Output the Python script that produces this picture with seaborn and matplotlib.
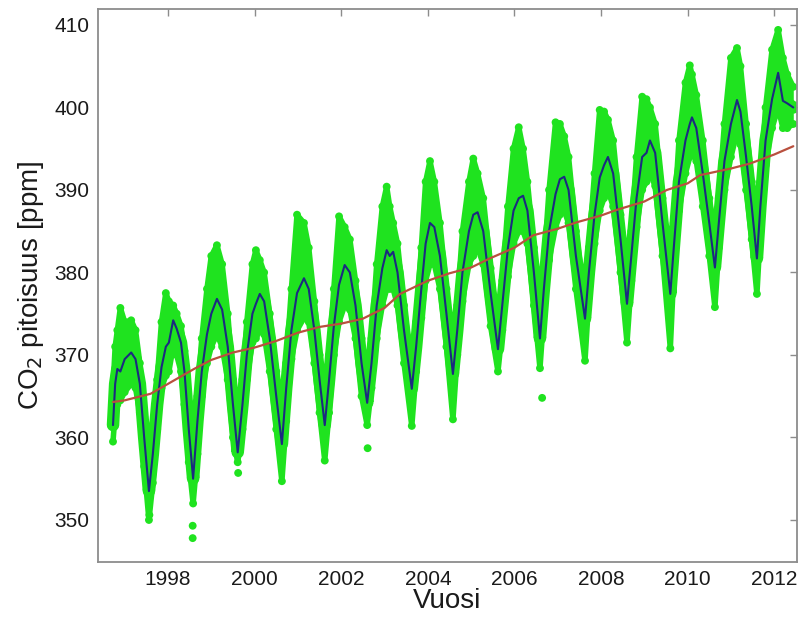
import matplotlib
matplotlib.use("Agg")
import matplotlib.pyplot as plt
import seaborn as sns
import pandas as pd

# ---------------- data ----------------
t_obs = [1996.73, 1996.78, 1996.83, 1996.90, 1997.00, 1997.15, 1997.25, 1997.35, 1997.45, 1997.56,
         1997.65, 1997.75, 1997.85, 1997.95, 1998.02, 1998.12, 1998.20, 1998.30, 1998.38, 1998.48,
         1998.58, 1998.68, 1998.78, 1998.90, 1999.00, 1999.13, 1999.25, 1999.38, 1999.50, 1999.61,
         1999.72, 1999.82, 1999.95, 2000.03, 2000.12, 2000.22, 2000.35, 2000.50, 2000.63,
         2000.73, 2000.85, 2000.98, 2001.14, 2001.25, 2001.38, 2001.50, 2001.62,
         2001.72, 2001.83, 2001.95, 2002.08, 2002.20, 2002.33, 2002.47, 2002.60,
         2002.70, 2002.82, 2002.95, 2003.05, 2003.12, 2003.20, 2003.30, 2003.45, 2003.63,
         2003.73, 2003.85, 2003.95, 2004.05, 2004.15, 2004.28, 2004.43, 2004.58,
         2004.68, 2004.80, 2004.95, 2005.05, 2005.15, 2005.28, 2005.45, 2005.62,
         2005.72, 2005.85, 2005.98, 2006.10, 2006.20, 2006.30, 2006.45, 2006.59,
         2006.68, 2006.80, 2006.95, 2007.05, 2007.15, 2007.25, 2007.42, 2007.63,
         2007.72, 2007.85, 2007.97, 2008.07, 2008.16, 2008.28, 2008.45, 2008.60,
         2008.70, 2008.82, 2008.95, 2009.05, 2009.13, 2009.25, 2009.42, 2009.60,
         2009.68, 2009.80, 2009.95, 2010.05, 2010.10, 2010.20, 2010.35, 2010.50, 2010.63,
         2010.72, 2010.85, 2011.00, 2011.14, 2011.22, 2011.35, 2011.48, 2011.60,
         2011.68, 2011.80, 2011.95, 2012.09, 2012.20, 2012.30, 2012.44]

co2_smooth = [361.5, 366.5, 368.3, 368.0, 369.5, 370.3, 369.5, 366.5, 360.0, 353.5,
              358.0, 364.0, 368.5, 371.0, 371.5, 374.2, 373.2, 371.5, 368.0, 361.0,
              355.0, 362.0, 368.0, 372.5, 375.0, 376.8, 375.5, 371.0, 364.0, 358.2,
              364.0, 370.0, 375.0, 376.2, 377.4, 376.5, 372.0, 365.0, 359.2,
              366.0, 373.0, 377.5, 379.3, 378.0, 373.0, 367.0, 361.5,
              367.0, 373.5, 378.5, 380.9, 380.0, 376.0, 369.0, 364.2,
              369.0, 376.0, 380.5, 382.7, 382.0, 382.5, 380.0, 373.0, 365.9,
              371.0, 378.0, 383.5, 386.0, 385.5, 382.0, 375.0, 367.7,
              373.0, 380.0, 385.0, 387.0, 387.3, 385.0, 377.5, 370.7,
              376.0, 383.0, 387.5, 389.0, 389.3, 387.5, 380.0, 372.0,
              378.0, 385.0, 389.5, 391.3, 391.6, 390.0, 382.0, 374.4,
              380.0, 387.0, 391.5, 393.0, 394.0, 392.0, 384.0, 376.2,
              382.0, 389.0, 394.0, 394.5, 396.0, 394.5, 386.0, 377.4,
              383.0, 391.0, 396.0, 398.0, 398.8, 397.5, 392.0, 386.0, 380.6,
              386.0, 393.5, 398.0, 400.9, 399.5, 394.0, 388.0, 381.7,
              388.0, 396.0, 401.0, 404.2, 400.8, 400.5, 400.0]

co2_hi = [366.0, 371.0, 373.0, 375.7, 374.0, 374.2, 373.0, 369.0, 362.5, 356.0,
          361.0, 367.0, 374.0, 377.5, 376.5, 376.0, 375.0, 373.5, 370.5, 363.5,
          358.0, 365.0, 372.0, 378.0, 382.0, 383.3, 381.0, 375.0, 367.0, 360.5,
          367.0, 374.0, 381.0, 382.7, 381.5, 380.0, 375.0, 368.0, 361.5,
          369.0, 378.0, 387.0, 386.0, 383.0, 376.5, 370.0, 364.0,
          370.0, 378.0, 386.8, 385.5, 384.0, 379.0, 372.0, 366.0,
          372.0, 381.0, 388.0, 390.4, 388.0, 386.0, 383.5, 376.0, 368.0,
          374.0, 383.0, 391.0, 393.5, 391.0, 386.0, 378.0, 370.0,
          376.0, 385.0, 391.0, 393.8, 392.0, 389.0, 380.5, 373.0,
          379.0, 388.0, 395.0, 397.6, 395.0, 391.0, 383.0, 374.5,
          381.0, 390.0, 398.2, 398.0, 396.5, 394.0, 385.0, 376.5,
          383.0, 392.0, 399.7, 399.5, 398.5, 396.0, 387.0, 378.5,
          385.0, 394.0, 401.3, 401.0, 400.0, 398.0, 389.0, 380.0,
          386.0, 396.0, 403.0, 405.1, 404.0, 401.5, 396.0, 389.0, 383.0,
          389.0, 398.0, 406.0, 407.2, 405.0, 398.0, 391.0, 384.0,
          391.0, 400.0, 407.0, 409.4, 406.0, 404.0, 402.5]

co2_lo = [359.5, 363.0, 364.0, 364.5, 365.5, 366.5, 366.0, 363.0, 356.5, 350.0,
          354.5, 361.0, 366.0, 367.5, 368.0, 371.0, 370.0, 368.0, 364.0, 357.0,
          352.0, 358.0, 365.0, 369.0, 371.0, 372.5, 371.0, 367.0, 360.0, 357.0,
          361.0, 367.0, 371.5, 372.0, 373.0, 372.5, 368.0, 361.0, 354.7,
          362.0, 369.5, 373.0, 374.5, 374.0, 369.0, 363.0, 357.2,
          363.0, 370.0, 374.0, 376.0, 375.5, 372.0, 365.0, 361.5,
          366.0, 372.0, 376.0, 378.0, 378.0, 378.0, 376.0, 369.0, 361.4,
          368.0, 374.5, 379.0, 381.0, 381.0, 378.0, 371.0, 362.2,
          370.0, 376.5, 381.0, 382.0, 383.0, 381.0, 373.5, 368.0,
          373.0, 379.5, 383.5, 385.0, 385.0, 383.5, 376.0, 368.4,
          375.0, 381.5, 385.5, 387.0, 387.5, 386.0, 378.0, 369.3,
          377.0, 383.5, 387.5, 389.0, 390.0, 388.0, 380.0, 371.5,
          379.0, 385.5, 390.0, 391.0, 392.0, 390.5, 382.0, 370.8,
          380.0, 387.5, 392.0, 394.0, 395.0, 393.5, 388.0, 382.0, 375.8,
          383.0, 390.0, 394.0, 397.0, 395.5, 390.0, 384.0, 377.4,
          385.0, 393.0, 397.5, 400.0, 397.5, 397.5, 398.0]

# isolated green points
t_out = [1998.57, 1998.57, 1999.62, 2002.61, 2006.64, 1997.57]
co2_out = [349.3, 347.8, 355.7, 358.7, 364.8, 350.6]

# trend (red line)
t_trend = [1996.73, 1997.0, 1997.3, 1997.6, 1998.0, 1998.3, 1998.6, 1999.0, 1999.5, 2000.0,
           2000.5, 2001.0, 2001.5, 2002.0, 2002.5, 2003.0, 2003.36, 2004.0, 2004.5, 2005.0,
           2005.43, 2006.0, 2006.43, 2007.0, 2007.45, 2008.0, 2008.37, 2009.0, 2009.52, 2010.0,
           2010.29, 2011.0, 2011.44, 2012.0, 2012.44]
co2_trend = [364.3, 364.5, 364.9, 365.3, 366.5, 367.4, 368.3, 369.4, 370.3, 370.9,
             371.7, 372.7, 373.4, 373.8, 374.4, 375.7, 377.4, 379.0, 379.9, 380.6,
             381.7, 383.0, 384.5, 385.3, 386.1, 386.9, 387.6, 388.6, 390.0, 390.8,
             391.8, 392.6, 393.2, 394.3, 395.3]

x_ticks = [1998, 2000, 2002, 2004, 2006, 2008, 2010, 2012]
y_ticks = [350, 360, 370, 380, 390, 400, 410]

# ---------------- plotting ----------------
sns.set_theme(style="white")
plt.rcParams['font.family'] = ['Liberation Sans', 'DejaVu Sans']

GREEN = '#1fe31f'
BLUE = '#1b2a80'
RED = '#b9503e'
GREY = '#8c8c8c'
TXT = '#1a1a1a'

fig = plt.figure(figsize=(8.02, 6.19), dpi=100)
ax = fig.add_axes([0.122, 0.092, 0.872, 0.893])

# green measurement cloud
ax.fill_between(t_obs, co2_lo, co2_hi, color=GREEN, linewidth=0, zorder=1)
for series, lw in ((co2_smooth, 9), (co2_hi, 4), (co2_lo, 4)):
    band = pd.DataFrame({'t': t_obs, 'co2': series})
    sns.lineplot(data=band, x='t', y='co2', ax=ax, color=GREEN, linewidth=lw,
                 sort=False, estimator=None, zorder=1,
                 solid_capstyle='round', solid_joinstyle='round')

pts = pd.DataFrame({
    't': t_obs * 3 + t_out,
    'co2': co2_hi + co2_lo + co2_smooth + co2_out,
})
sns.scatterplot(data=pts, x='t', y='co2', ax=ax, color=GREEN, s=32,
                edgecolor='none', linewidth=0, zorder=2)

smooth = pd.DataFrame({'t': t_obs, 'co2': co2_smooth})
sns.lineplot(data=smooth, x='t', y='co2', ax=ax, color=BLUE, linewidth=1.5,
             sort=False, estimator=None, zorder=3)

trend = pd.DataFrame({'t': t_trend, 'co2': co2_trend})
sns.lineplot(data=trend, x='t', y='co2', ax=ax, color=RED, linewidth=1.6,
             sort=False, estimator=None, zorder=4)

ax.set_xlim(1996.38, 2012.53)
ax.set_ylim(344.9, 411.9)
ax.set_xticks(x_ticks)
ax.set_yticks(y_ticks)
ax.set_xticklabels([str(v) for v in x_ticks], fontsize=15, color=TXT)
ax.set_yticklabels([str(v) for v in y_ticks], fontsize=15, color=TXT)
ax.tick_params(direction='in', top=True, right=True, length=5, width=1,
               color=GREY, pad=6)
for sp in ax.spines.values():
    sp.set_color(GREY)
    sp.set_linewidth(1.3)

ax.set_xlabel('Vuosi', fontsize=20, color=TXT, labelpad=-1)
ax.set_ylabel('CO$_2$ pitoisuus [ppm]', fontsize=20, color=TXT, labelpad=6)

fig.savefig('out.png', dpi=100, facecolor='white')
